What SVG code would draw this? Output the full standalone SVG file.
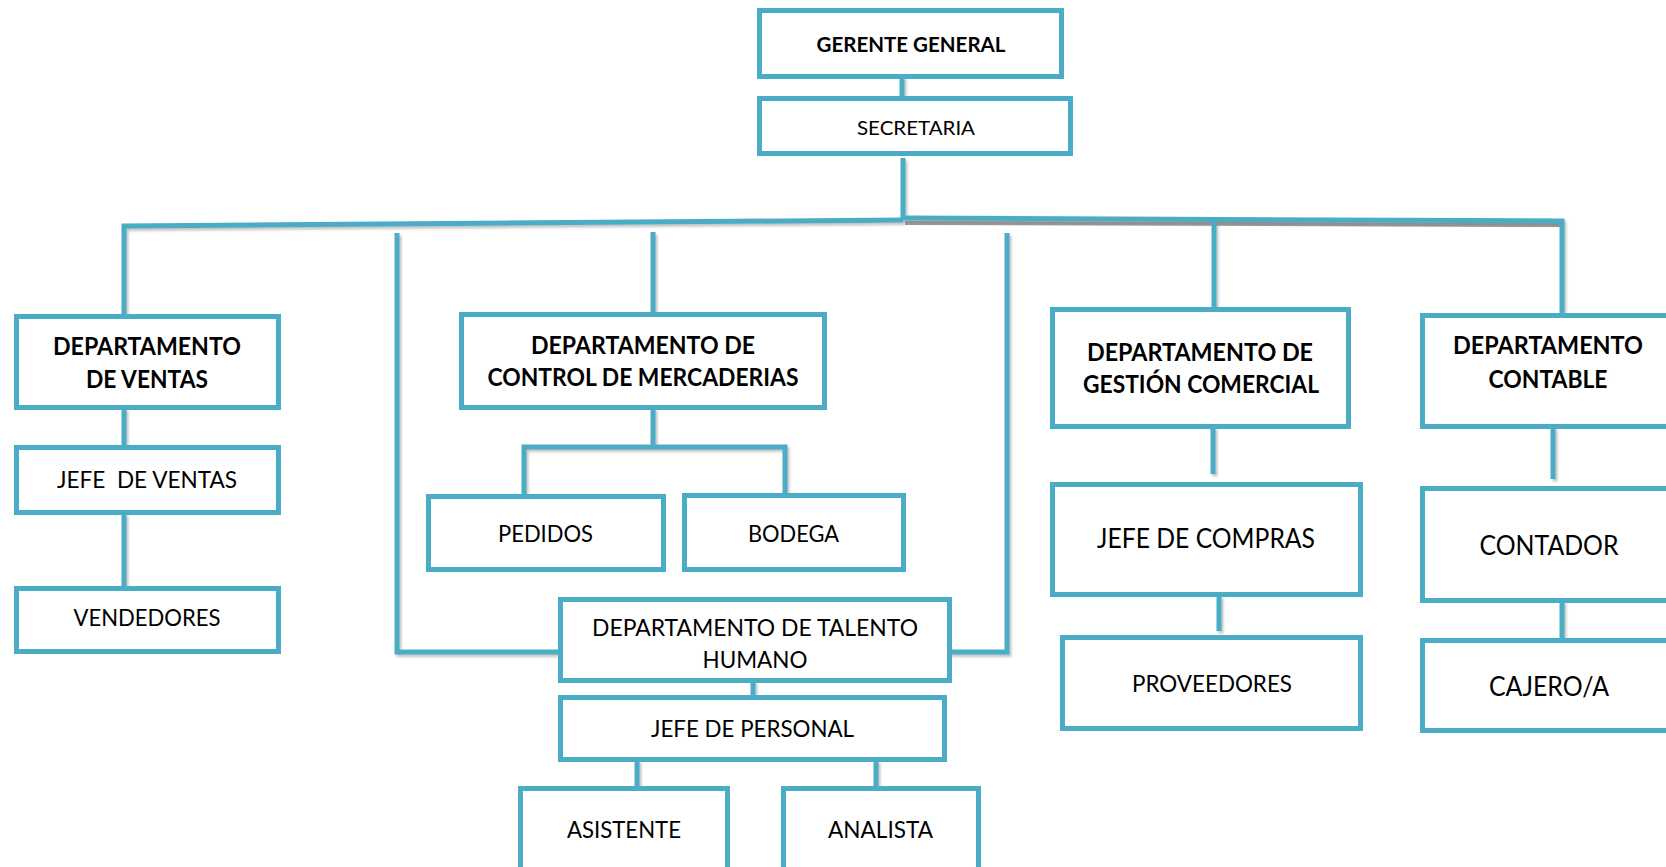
<svg xmlns="http://www.w3.org/2000/svg" width="1666" height="867" viewBox="0 0 1666 867">
  <defs>
    <filter id="soft" x="-20%" y="-20%" width="140%" height="140%">
      <feDropShadow dx="2" dy="2.5" stdDeviation="1.2" flood-color="#7f7f7f" flood-opacity="0.45"/>
    </filter>
  </defs>
  <style>
    .box { fill: #ffffff; stroke: #4BACC6; stroke-width: 5; }
    .wire { fill: none; stroke: #4BACC6; stroke-width: 5; stroke-linecap: butt; stroke-linejoin: miter; }
    .shade { fill: none; stroke: #9a9a9a; stroke-width: 4; }
    text { font-family: Lato, "Liberation Sans", sans-serif; fill: #000000; text-anchor: middle; }
    .b { font-weight: bold; }
    .s20 { font-size: 20px; }
    .s23 { font-size: 23px; }
    .s24 { font-size: 24px; }
    .s26 { font-size: 26px; }
  </style>

  <!-- connectors -->
  <g id="connectors">
    <line class="shade" x1="905" y1="223" x2="1563" y2="225"/>
    <g filter="url(#soft)">
      <line class="wire" x1="902" y1="77" x2="902" y2="98"/>
      <line class="wire" x1="903" y1="158" x2="903" y2="220"/>
      <polyline class="wire" points="903,220 124,226 124,316"/>
      <polyline class="wire" points="903,218 1562,221 1562,315"/>
      <line class="wire" x1="653" y1="232" x2="653" y2="314"/>
      <polyline class="wire" points="397,233 397,652 560,652"/>
      <polyline class="wire" points="1007,233 1007,652 950,652"/>
      <line class="wire" x1="1214" y1="222" x2="1214" y2="309"/>
      <line class="wire" x1="124" y1="408" x2="124" y2="447"/>
      <line class="wire" x1="124" y1="513" x2="124" y2="588"/>
      <line class="wire" x1="653" y1="408" x2="653" y2="447"/>
      <polyline class="wire" points="524,494 524,447 785,447 785,494"/>
      <line class="wire" x1="753" y1="681" x2="753" y2="697"/>
      <line class="wire" x1="637" y1="760" x2="637" y2="788"/>
      <line class="wire" x1="876" y1="760" x2="876" y2="788"/>
      <line class="wire" x1="1213" y1="427" x2="1213" y2="474"/>
      <line class="wire" x1="1219" y1="595" x2="1219" y2="631"/>
      <line class="wire" x1="1553" y1="427" x2="1553" y2="479"/>
      <line class="wire" x1="1562" y1="601" x2="1562" y2="638"/>
    </g>
  </g>

  <!-- top management -->
  <g id="gerente-general">
    <rect class="box" x="759.5" y="10.5" width="302" height="66"/>
    <text class="b s20" x="911" y="52" textLength="189" lengthAdjust="spacingAndGlyphs">GERENTE GENERAL</text>
  </g>
  <g id="secretaria">
    <rect class="box" x="759.5" y="98.5" width="311" height="55"/>
    <text class="s20" x="916" y="135" textLength="118" lengthAdjust="spacingAndGlyphs">SECRETARIA</text>
  </g>

  <!-- sales -->
  <g id="dep-ventas">
    <rect class="box" x="16.5" y="316.5" width="262" height="91"/>
    <text class="b s24" x="147" y="355" textLength="188" lengthAdjust="spacingAndGlyphs">DEPARTAMENTO</text>
    <text class="b s24" x="147" y="388" textLength="122" lengthAdjust="spacingAndGlyphs">DE VENTAS</text>
  </g>
  <g id="jefe-ventas">
    <rect class="box" x="16.5" y="447.5" width="262" height="65"/>
    <text class="s23" x="147" y="488" xml:space="preserve" textLength="180" lengthAdjust="spacingAndGlyphs">JEFE  DE VENTAS</text>
  </g>
  <g id="vendedores">
    <rect class="box" x="16.5" y="588.5" width="262" height="63"/>
    <text class="s23" x="147" y="626" textLength="147" lengthAdjust="spacingAndGlyphs">VENDEDORES</text>
  </g>

  <!-- goods control -->
  <g id="dep-control">
    <rect class="box" x="461.5" y="314.5" width="363" height="93"/>
    <text class="b s24" x="643" y="354" textLength="224" lengthAdjust="spacingAndGlyphs">DEPARTAMENTO DE</text>
    <text class="b s24" x="643" y="386" textLength="311" lengthAdjust="spacingAndGlyphs">CONTROL DE MERCADERIAS</text>
  </g>
  <g id="pedidos">
    <rect class="box" x="428.5" y="496.5" width="235" height="73"/>
    <text class="s23" x="545.5" y="542" textLength="95" lengthAdjust="spacingAndGlyphs">PEDIDOS</text>
  </g>
  <g id="bodega">
    <rect class="box" x="684.5" y="495.5" width="219" height="74"/>
    <text class="s23" x="793.5" y="542" textLength="91" lengthAdjust="spacingAndGlyphs">BODEGA</text>
  </g>

  <!-- human resources -->
  <g id="dep-talento">
    <rect class="box" x="560.5" y="599.5" width="389" height="81"/>
    <text class="s23" x="755" y="636" textLength="326" lengthAdjust="spacingAndGlyphs">DEPARTAMENTO DE TALENTO</text>
    <text class="s23" x="755" y="668" textLength="105" lengthAdjust="spacingAndGlyphs">HUMANO</text>
  </g>
  <g id="jefe-personal">
    <rect class="box" x="560.5" y="697.5" width="384" height="62"/>
    <text class="s23" x="752.5" y="737" textLength="203" lengthAdjust="spacingAndGlyphs">JEFE DE PERSONAL</text>
  </g>
  <g id="asistente">
    <rect class="box" x="520.5" y="788.5" width="207" height="100"/>
    <text class="s23" x="624" y="838" textLength="114" lengthAdjust="spacingAndGlyphs">ASISTENTE</text>
  </g>
  <g id="analista">
    <rect class="box" x="783.5" y="788.5" width="195" height="100"/>
    <text class="s23" x="880.5" y="838" textLength="105" lengthAdjust="spacingAndGlyphs">ANALISTA</text>
  </g>

  <!-- commercial management -->
  <g id="dep-gestion">
    <rect class="box" x="1052.5" y="309.5" width="296" height="117"/>
    <text class="b s24" x="1200" y="361" textLength="226" lengthAdjust="spacingAndGlyphs">DEPARTAMENTO DE</text>
    <text class="b s24" x="1201" y="393" textLength="236" lengthAdjust="spacingAndGlyphs">GESTIÓN COMERCIAL</text>
  </g>
  <g id="jefe-compras">
    <rect class="box" x="1052.5" y="484.5" width="308" height="110"/>
    <text class="s26" x="1206" y="548" textLength="218" lengthAdjust="spacingAndGlyphs">JEFE DE COMPRAS</text>
  </g>
  <g id="proveedores">
    <rect class="box" x="1062.5" y="637.5" width="298" height="91"/>
    <text class="s23" x="1212" y="692" textLength="160" lengthAdjust="spacingAndGlyphs">PROVEEDORES</text>
  </g>

  <!-- accounting -->
  <g id="dep-contable">
    <rect class="box" x="1422.5" y="315.5" width="300" height="111"/>
    <text class="b s24" x="1548" y="354" textLength="190" lengthAdjust="spacingAndGlyphs">DEPARTAMENTO</text>
    <text class="b s24" x="1548" y="388" textLength="119" lengthAdjust="spacingAndGlyphs">CONTABLE</text>
  </g>
  <g id="contador">
    <rect class="box" x="1422.5" y="488.5" width="300" height="112"/>
    <text class="s26" x="1549" y="555" textLength="139" lengthAdjust="spacingAndGlyphs">CONTADOR</text>
  </g>
  <g id="cajero">
    <rect class="box" x="1422.5" y="640.5" width="300" height="90"/>
    <text class="s26" x="1549" y="696" textLength="120" lengthAdjust="spacingAndGlyphs">CAJERO/A</text>
  </g>
</svg>
